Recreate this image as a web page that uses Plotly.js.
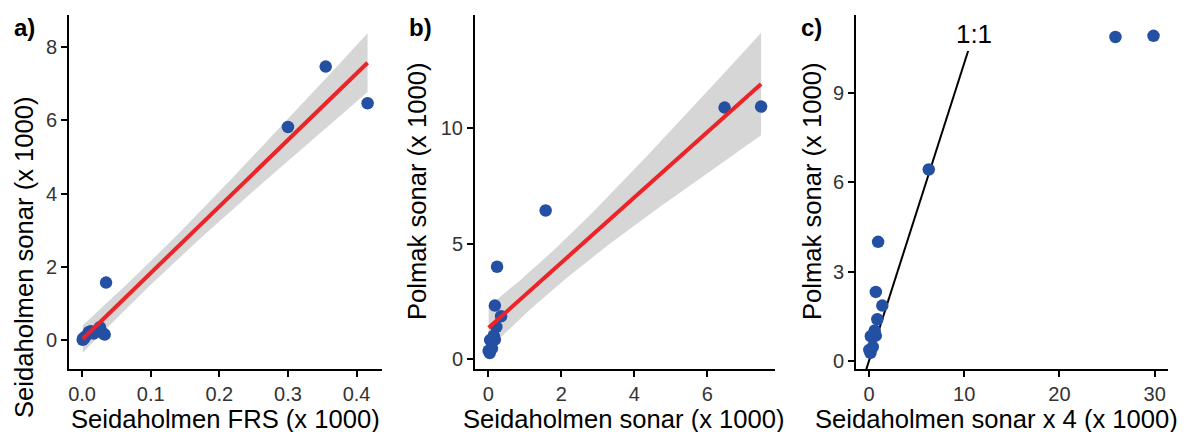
<!DOCTYPE html>
<html>
<head>
<meta charset="utf-8">
<script src="https://cdn.plot.ly/plotly-3.0.1.min.js"></script>
<style>
  html, body { margin: 0; padding: 0; background: #ffffff; }
  #chart { width: 1188px; height: 432px; }
</style>
</head>
<body>
<div id="chart"></div>
<script>
// Panel a: FRS counts vs. sonar counts at Seidaholmen (thousands of fish)
const seidaholmenFRS   = [0.355, 0.416, 0.300, 0.035, 0.026, 0.013, 0.010, 0.031, 0.017, 0.033, 0.005, 0.002, 0.003, 0.001];
const seidaholmenSonarA = [7.47, 6.47, 5.82, 1.57, 0.35, 0.24, 0.22, 0.18, 0.18, 0.15, 0.10, 0.05, 0.04, 0.01];

// Panels b and c: Seidaholmen sonar vs. Polmak sonar (thousands of fish)
const seidaholmenSonar = [7.47, 6.47, 1.57, 0.24, 0.18, 0.35, 0.22, 0.15, 0.18, 0.05, 0.10, 0.01, 0.04];
const polmakSonar      = [10.92, 10.88, 6.43, 4.00, 2.32, 1.86, 1.40, 1.02, 0.85, 0.83, 0.47, 0.37, 0.27];

// Panel c multiplies the Seidaholmen counts by this factor
const sonarScale = 4;

// Tick values per panel
const ticksAx = [0, 0.1, 0.2, 0.3, 0.4];
const ticksAy = [0, 2, 4, 6, 8];
const ticksBx = [0, 2, 4, 6];
const ticksBy = [0, 5, 10];
const ticksCx = [0, 10, 20, 30];
const ticksCy = [0, 3, 6, 9];

// Identity line extent and label for panel c
const identitySpan = [-1, 11];
const identityLabel = "1:1";

const POINT = "#2450A3";
const FIT = "#EC2327";
const BAND = "rgba(153,153,153,0.4)";
const FONT = "Liberation Sans, Arial, sans-serif";

// Two-sided 95% Student t quantile (Cornish-Fisher expansion around z)
function tQuantile975(df) {
  const z = 1.959963985;
  const z3 = z ** 3, z5 = z ** 5, z7 = z ** 7, z9 = z ** 9;
  return z
    + (z3 + z) / (4 * df)
    + (5 * z5 + 16 * z3 + 3 * z) / (96 * df * df)
    + (3 * z7 + 19 * z5 + 17 * z3 - 15 * z) / (384 * df ** 3)
    + (79 * z9 + 776 * z7 + 1482 * z5 - 1920 * z3 - 945 * z) / (92160 * df ** 4);
}

// Ordinary least squares line with 95% confidence band of the mean
function linearFit(xs, ys, steps) {
  const n = xs.length;
  const mx = xs.reduce((a, b) => a + b, 0) / n;
  const my = ys.reduce((a, b) => a + b, 0) / n;
  let sxx = 0, sxy = 0;
  for (let i = 0; i < n; i++) {
    sxx += (xs[i] - mx) ** 2;
    sxy += (xs[i] - mx) * (ys[i] - my);
  }
  const slope = sxy / sxx;
  const icpt = my - slope * mx;
  let ssr = 0;
  for (let i = 0; i < n; i++) ssr += (ys[i] - icpt - slope * xs[i]) ** 2;
  const s = Math.sqrt(ssr / (n - 2));
  const t = tQuantile975(n - 2);
  const lo = Math.min(...xs), hi = Math.max(...xs);
  const gx = [], fit = [], upper = [], lower = [];
  for (let k = 0; k <= steps; k++) {
    const x = lo + (hi - lo) * k / steps;
    const yhat = icpt + slope * x;
    const se = s * Math.sqrt(1 / n + (x - mx) ** 2 / sxx);
    gx.push(x); fit.push(yhat);
    upper.push(yhat + t * se); lower.push(yhat - t * se);
  }
  return { gx, fit, upper, lower };
}

function bandTrace(f, xa, ya) {
  return {
    x: f.gx.concat(f.gx.slice().reverse()),
    y: f.upper.concat(f.lower.slice().reverse()),
    xaxis: xa, yaxis: ya, type: "scatter", mode: "lines",
    fill: "toself", fillcolor: BAND, line: { width: 0 },
    hoverinfo: "skip", showlegend: false
  };
}
function fitTrace(f, xa, ya) {
  return {
    x: f.gx, y: f.fit, xaxis: xa, yaxis: ya, type: "scatter", mode: "lines",
    line: { color: FIT, width: 4 }, showlegend: false
  };
}
function pointTrace(xs, ys, xa, ya) {
  return {
    x: xs, y: ys, xaxis: xa, yaxis: ya, type: "scatter", mode: "markers",
    marker: { color: POINT, size: 12.5, line: { width: 0 } }, showlegend: false
  };
}

const fitA = linearFit(seidaholmenFRS, seidaholmenSonarA, 80);
const fitB = linearFit(seidaholmenSonar, polmakSonar, 80);
const scaledSonar = seidaholmenSonar.map(v => v * sonarScale);

const traces = [
  bandTrace(fitA, "x", "y"),
  pointTrace(seidaholmenFRS, seidaholmenSonarA, "x", "y"),
  fitTrace(fitA, "x", "y"),
  bandTrace(fitB, "x2", "y2"),
  pointTrace(seidaholmenSonar, polmakSonar, "x2", "y2"),
  fitTrace(fitB, "x2", "y2"),
  {
    x: identitySpan, y: identitySpan, xaxis: "x3", yaxis: "y3",
    type: "scatter", mode: "lines", line: { color: "#000000", width: 2 },
    showlegend: false
  },
  pointTrace(scaledSonar, polmakSonar, "x3", "y3")
];

function axis(domain, range, tickvals, anchor, fmt) {
  const ax = {
    domain, range, tickvals, anchor,
    showline: true, linecolor: "#000000", linewidth: 2,
    ticks: "outside", ticklen: 6, tickwidth: 2, tickcolor: "#000000",
    showgrid: false, zeroline: false, fixedrange: true,
    tickfont: { family: FONT, size: 20, color: "#333333" }
  };
  if (fmt) ax.tickformat = fmt;
  return ax;
}

const W = 1188, H = 432;
const px = v => v / W;
const py = v => 1 - v / H;
const yDom = [py(369), py(15)];

const titleFont = { family: FONT, size: 25.6, color: "#000000" };
const tagFont = { family: FONT, size: 24, color: "#000000" };

function xTitle(text, cx) {
  return { text, x: px(cx), y: py(419), xref: "paper", yref: "paper",
           xanchor: "center", yanchor: "middle", showarrow: false, font: titleFont };
}
function yTitle(text, cx, cy) {
  return { text, x: px(cx), y: py(cy), xref: "paper", yref: "paper", textangle: -90,
           xanchor: "center", yanchor: "middle", showarrow: false, font: titleFont };
}
function tag(text, left) {
  return { text: "<b>" + text + "</b>", x: px(left), y: py(27), xref: "paper", yref: "paper",
           xanchor: "left", yanchor: "middle", showarrow: false, font: tagFont };
}

const layout = {
  width: W, height: H,
  margin: { l: 0, r: 0, t: 0, b: 0 },
  paper_bgcolor: "#ffffff", plot_bgcolor: "#ffffff",
  showlegend: false,
  xaxis:  axis([px(69), px(382)],   [-0.019, 0.437], ticksAx, "y", ".1f"),
  yaxis:  axis(yDom,                [-0.79, 8.88],   ticksAy, "x"),
  xaxis2: axis([px(475), px(775)],  [-0.364, 7.85],  ticksBx, "y2"),
  yaxis2: axis(yDom,                [-0.42, 14.88],  ticksBy, "x2"),
  xaxis3: axis([px(856), px(1168)], [-1.36, 31.4],   ticksCx, "y3"),
  yaxis3: axis(yDom,                [-0.27, 11.62],  ticksCy, "x3"),
  annotations: [
    xTitle("Seidaholmen FRS (x 1000)", 225),
    xTitle("Seidaholmen sonar (x 1000)", 624),
    xTitle("Seidaholmen sonar x 4 (x 1000)", 996.5),
    yTitle("Seidaholmen sonar (x 1000)", 24, 257),
    yTitle("Polmak sonar (x 1000)", 417, 192),
    yTitle("Polmak sonar (x 1000)", 812, 192),
    tag("a)", 12),
    tag("b)", 407),
    tag("c)", 799),
    {
      text: identityLabel, x: 11, y: 11, xref: "x3", yref: "y3",
      xanchor: "center", yanchor: "middle", showarrow: false,
      bgcolor: "#ffffff", borderwidth: 0, borderpad: 3,
      width: 52, height: 29,
      font: { family: FONT, size: 26, color: "#000000" }
    }
  ]
};

Plotly.newPlot("chart", traces, layout, { staticPlot: true, displayModeBar: false });
</script>
</body>
</html>
